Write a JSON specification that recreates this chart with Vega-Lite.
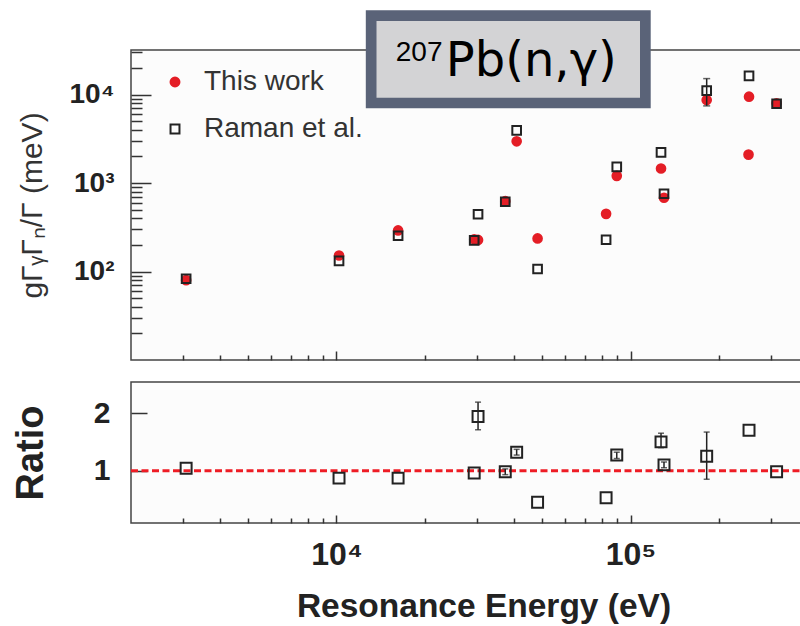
{
  "$schema": "https://vega.github.io/schema/vega-lite/v6.json",
  "background": "white",
  "padding": {"left": 11, "top": 9, "right": 0, "bottom": 0},
  "spacing": 19,
  "config": {
    "view": {"stroke": "#444", "strokeWidth": 1.5, "fill": "#fcfcfc"},
    "axis": {"grid": false, "domain": false, "tickColor": "#333", "tickWidth": 1.5, "labelFont": "Liberation Sans", "titleFont": "Liberation Sans"},
    "legend": {"orient": "none", "legendX": 30, "legendY": 18, "labelFontSize": 28, "labelFont": "Liberation Sans", "labelColor": "#333", "rowPadding": 19, "labelOffset": 15, "symbolStrokeWidth": 2, "symbolSize": 80, "title": null}
  },
  "vconcat": [
    {
      "width": 705,
      "height": 310,
      "encoding": {
        "x": {
          "field": "E", "type": "quantitative",
          "scale": {"type": "log", "domain": [2000, 500000]},
          "axis": {
            "title": null, "labels": false,
            "values": [3000, 4000, 5000, 6000, 7000, 8000, 9000, 10000, 20000, 30000, 40000, 50000, 60000, 70000, 80000, 90000, 100000, 200000, 300000, 400000],
            "tickSize": {"condition": {"test": "datum.value==10000||datum.value==100000", "value": -9}, "value": -5}
          }
        },
        "y": {
          "field": "v", "type": "quantitative",
          "scale": {"type": "log", "domain": [10, 32000]},
          "axis": {
            "title": "gΓᵧΓₙ/Γ (meV)",
            "values": [20, 30, 40, 50, 60, 70, 80, 90, 100, 200, 300, 400, 500, 600, 700, 800, 900, 1000, 2000, 3000, 4000, 5000, 6000, 7000, 8000, 9000, 10000, 20000, 30000],
            "labelExpr": "datum.value==100?'10²':datum.value==1000?'10³':datum.value==10000?'10⁴':''",
            "labelFontSize": 28, "labelFontWeight": "bold", "labelColor": "#222", "labelPadding": 37, "labelOverlap": false,
            "tickSize": {"condition": {"test": "datum.value==100||datum.value==1000||datum.value==10000", "value": -20}, "value": -11},
            "titleFontSize": 30, "titleFontWeight": "normal", "titleColor": "#333", "titlePadding": 22
          }
        }
      },
      "layer": [
        {
          "data": {"values": [
            {"E": 3080, "v": 80, "series": "This work"},
            {"E": 10200, "v": 152, "series": "This work"},
            {"E": 16200, "v": 292, "series": "This work"},
            {"E": 29400, "v": 232, "series": "This work"},
            {"E": 30300, "v": 228, "series": "This work"},
            {"E": 37500, "v": 625, "series": "This work"},
            {"E": 41000, "v": 2970, "series": "This work"},
            {"E": 48300, "v": 237, "series": "This work"},
            {"E": 82600, "v": 449, "series": "This work"},
            {"E": 89800, "v": 1208, "series": "This work"},
            {"E": 127000, "v": 1463, "series": "This work"},
            {"E": 130000, "v": 684, "series": "This work"},
            {"E": 181600, "v": 8710, "series": "This work"},
            {"E": 253000, "v": 9500, "series": "This work"},
            {"E": 252000, "v": 2100, "series": "This work"},
            {"E": 314000, "v": 7980, "series": "This work"},
            {"E": 3080, "v": 83, "series": "Raman et al."},
            {"E": 10200, "v": 132, "series": "Raman et al."},
            {"E": 16200, "v": 254, "series": "Raman et al."},
            {"E": 29400, "v": 225, "series": "Raman et al."},
            {"E": 30300, "v": 445, "series": "Raman et al."},
            {"E": 37500, "v": 615, "series": "Raman et al."},
            {"E": 41000, "v": 3950, "series": "Raman et al."},
            {"E": 48300, "v": 107, "series": "Raman et al."},
            {"E": 82600, "v": 229, "series": "Raman et al."},
            {"E": 89800, "v": 1524, "series": "Raman et al."},
            {"E": 127000, "v": 2230, "series": "Raman et al."},
            {"E": 130000, "v": 759, "series": "Raman et al."},
            {"E": 181600, "v": 11100, "series": "Raman et al."},
            {"E": 253000, "v": 16300, "series": "Raman et al."},
            {"E": 314000, "v": 7900, "series": "Raman et al."}
          ]},
          "mark": {"type": "point", "filled": false, "size": 75, "strokeWidth": 2, "opacity": 1},
          "encoding": {
            "shape": {"field": "series", "type": "nominal", "scale": {"domain": ["This work", "Raman et al."], "range": ["circle", "square"]}},
            "fill": {"field": "series", "type": "nominal", "scale": {"domain": ["This work", "Raman et al."], "range": ["#e41e26", "transparent"]}},
            "stroke": {"field": "series", "type": "nominal", "scale": {"domain": ["This work", "Raman et al."], "range": ["#e41e26", "#222222"]}}
          }
        },
        {
          "data": {"values": [{"E": 181600, "v": 7470, "v2": 15200}]},
          "mark": {"type": "rule", "color": "#222", "strokeWidth": 1.5},
          "encoding": {"y2": {"field": "v2"}}
        },
        {
          "data": {"values": [{"E": 181600, "v": 7470}, {"E": 181600, "v": 15200}]},
          "mark": {"type": "tick", "orient": "horizontal", "size": 7, "thickness": 1.5, "color": "#222"}
        },
        {
          "data": {"values": [{"E": 13118, "E2": 112340, "v": 8050, "v2": 78300}]},
          "mark": {"type": "rect", "fill": "#d3d3d5", "stroke": "#5a6378", "strokeWidth": 10.7},
          "encoding": {"x2": {"field": "E2"}, "y2": {"field": "v2"}}
        },
        {
          "data": {"values": [{"E": 15910, "v": 24030, "label": "207"}]},
          "mark": {"type": "text", "align": "left", "baseline": "alphabetic", "fontSize": 28, "font": "Liberation Sans", "color": "#000"},
          "encoding": {"text": {"field": "label"}}
        },
        {
          "data": {"values": [{"E": 23540, "v": 16250, "label": "Pb(n,γ)"}]},
          "mark": {"type": "text", "align": "left", "baseline": "alphabetic", "fontSize": 48, "font": "DejaVu Sans", "color": "#000"},
          "encoding": {"text": {"field": "label"}}
        }
      ]
    },
    {
      "width": 705,
      "height": 141,
      "encoding": {
        "x": {
          "field": "E", "type": "quantitative",
          "scale": {"type": "log", "domain": [2000, 500000]},
          "axis": {
            "title": "Resonance Energy (eV)",
            "values": [3000, 4000, 5000, 6000, 7000, 8000, 9000, 10000, 20000, 30000, 40000, 50000, 60000, 70000, 80000, 90000, 100000, 200000, 300000, 400000],
            "labelExpr": "datum.value==10000?'10⁴':datum.value==100000?'10⁵':''",
            "labelFontSize": 32, "labelFontWeight": "bold", "labelColor": "#222", "labelPadding": 24, "labelOverlap": false, "labelFlush": false,
            "tickSize": {"condition": {"test": "datum.value==10000||datum.value==100000", "value": -8}, "value": -5},
            "titleFontSize": 33.5, "titleFontWeight": "bold", "titleColor": "#222", "titlePadding": 17
          }
        },
        "y": {
          "field": "r", "type": "quantitative",
          "scale": {"domain": [0.09, 2.54], "nice": false, "zero": false},
          "axis": {
            "title": "Ratio", "values": [1, 2],
            "labelFontSize": 30, "labelFontWeight": "bold", "labelColor": "#222", "labelPadding": 37,
            "tickSize": -16,
            "titleFontSize": 38, "titleFontWeight": "bold", "titleColor": "#222", "titlePadding": 43
          }
        }
      },
      "layer": [
        {
          "data": {"values": [{"E": 2000, "E2": 500000, "r": 1}]},
          "mark": {"type": "rule", "color": "#ee1c25", "strokeWidth": 3, "strokeDash": [7, 3.5]},
          "encoding": {"x2": {"field": "E2"}}
        },
        {
          "data": {"values": [
            {"E": 30300, "r": 1.71, "r2": 2.19},
            {"E": 127000, "r": 1.40, "r2": 1.65},
            {"E": 181600, "r": 0.85, "r2": 1.67},
            {"E": 37500, "r": 0.93, "r2": 1.03},
            {"E": 41000, "r": 1.27, "r2": 1.37},
            {"E": 89800, "r": 1.21, "r2": 1.32},
            {"E": 130000, "r": 1.05, "r2": 1.15}
          ]},
          "mark": {"type": "rule", "color": "#222", "strokeWidth": 1.5},
          "encoding": {"y2": {"field": "r2"}}
        },
        {
          "data": {"values": [
            {"E": 30300, "r": 1.71}, {"E": 30300, "r": 2.19},
            {"E": 127000, "r": 1.40}, {"E": 127000, "r": 1.65},
            {"E": 181600, "r": 0.85}, {"E": 181600, "r": 1.67},
            {"E": 37500, "r": 0.93}, {"E": 37500, "r": 1.03},
            {"E": 41000, "r": 1.27}, {"E": 41000, "r": 1.37},
            {"E": 89800, "r": 1.21}, {"E": 89800, "r": 1.32},
            {"E": 130000, "r": 1.05}, {"E": 130000, "r": 1.15}
          ]},
          "mark": {"type": "tick", "orient": "horizontal", "size": 6, "thickness": 1.5, "color": "#222"}
        },
        {
          "data": {"values": [
            {"E": 3080, "r": 1.04},
            {"E": 10200, "r": 0.87},
            {"E": 16200, "r": 0.87},
            {"E": 29400, "r": 0.96},
            {"E": 30300, "r": 1.94},
            {"E": 37500, "r": 0.98},
            {"E": 41000, "r": 1.32},
            {"E": 48300, "r": 0.45},
            {"E": 82600, "r": 0.53},
            {"E": 89800, "r": 1.27},
            {"E": 127000, "r": 1.50},
            {"E": 130000, "r": 1.10},
            {"E": 181600, "r": 1.25},
            {"E": 253000, "r": 1.70},
            {"E": 314000, "r": 0.98}
          ]},
          "mark": {"type": "square", "filled": false, "size": 120, "strokeWidth": 2, "color": "#222", "opacity": 1}
        }
      ]
    }
  ]
}
